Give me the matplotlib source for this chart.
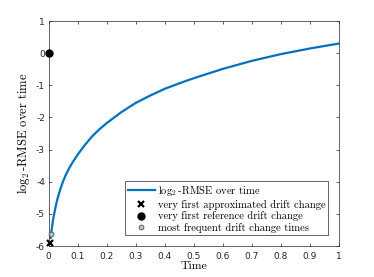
import matplotlib
matplotlib.use('Agg')
import matplotlib.pyplot as plt

plt.rcParams['mathtext.fontset'] = 'cm'
plt.rcParams['axes.unicode_minus'] = False

# values
time = [0.007, 0.01, 0.012, 0.015, 0.02, 0.025, 0.03, 0.04, 0.05, 0.06, 0.07, 0.08,
        0.09, 0.1, 0.125, 0.15, 0.175, 0.2, 0.25, 0.3, 0.35, 0.4, 0.45, 0.5, 0.6,
        0.7, 0.8, 0.9, 1.0]
rmse_log2 = [-5.75, -5.55, -5.42, -5.22, -4.98, -4.76, -4.56, -4.25, -3.99, -3.78,
             -3.60, -3.44, -3.30, -3.16, -2.86, -2.59, -2.37, -2.18, -1.84, -1.55,
             -1.32, -1.11, -0.94, -0.78, -0.49, -0.24, -0.03, 0.145, 0.30]

approx_t, approx_v = [0.005], [-5.91]
ref_t, ref_v = [0.0], [0.0]
freq_t, freq_v = [0.009], [-5.63]

fig = plt.figure(figsize=(3.74, 2.77), dpi=100)
ax = fig.add_axes([48.5 / 374, 1 - 246 / 277, (339 - 48.5) / 374, (246 - 21) / 277])

ax.plot(time, rmse_log2, color='#0072BD', lw=1.6, label=r'$\log_2$-RMSE over time', zorder=2)
ax.plot(approx_t, approx_v, 'x', color='black', ms=5, mew=1.6,
        label='very first approximated drift change', zorder=3, clip_on=False)
ax.plot(ref_t, ref_v, 'o', color='black', ms=5,
        label='very first reference drift change', zorder=3, clip_on=False)
ax.plot(freq_t, freq_v, 'o', mfc='#c0c0c0', mec='#505050', ms=3.5, mew=0.6,
        label='most frequent drift change times', zorder=4, clip_on=False)

ax.set_xlim(0, 1)
ax.set_ylim(-6, 1)
ax.set_xticks([0, 0.1, 0.2, 0.3, 0.4, 0.5, 0.6, 0.7, 0.8, 0.9, 1])
ax.set_xticklabels(['0', '0.1', '0.2', '0.3', '0.4', '0.5', '0.6', '0.7', '0.8', '0.9', '1'])
ax.set_yticks(range(-6, 2))
ax.tick_params(direction='in', top=True, right=True, length=2.5, width=0.5,
               labelsize=6.5, pad=2.5, colors='#262626')
ax.tick_params(axis='x', pad=4)
for s in ax.spines.values():
    s.set_linewidth(0.5)
    s.set_color('#262626')

ax.set_xlabel('Time', family='cmr10', fontsize=8.5, labelpad=1)
ax.set_ylabel(r'$\log_2$-RMSE over time', family='cmr10', fontsize=9, labelpad=3)

leg = ax.legend(loc='lower right', prop={'family': 'cmr10', 'size': 7.6},
                fancybox=False, edgecolor='#262626', framealpha=1,
                handlelength=2.6, borderpad=0.25, labelspacing=0.15,
                handletextpad=0.3, borderaxespad=1.0)
leg.get_frame().set_linewidth(0.5)

fig.savefig('out.png', dpi=100)
